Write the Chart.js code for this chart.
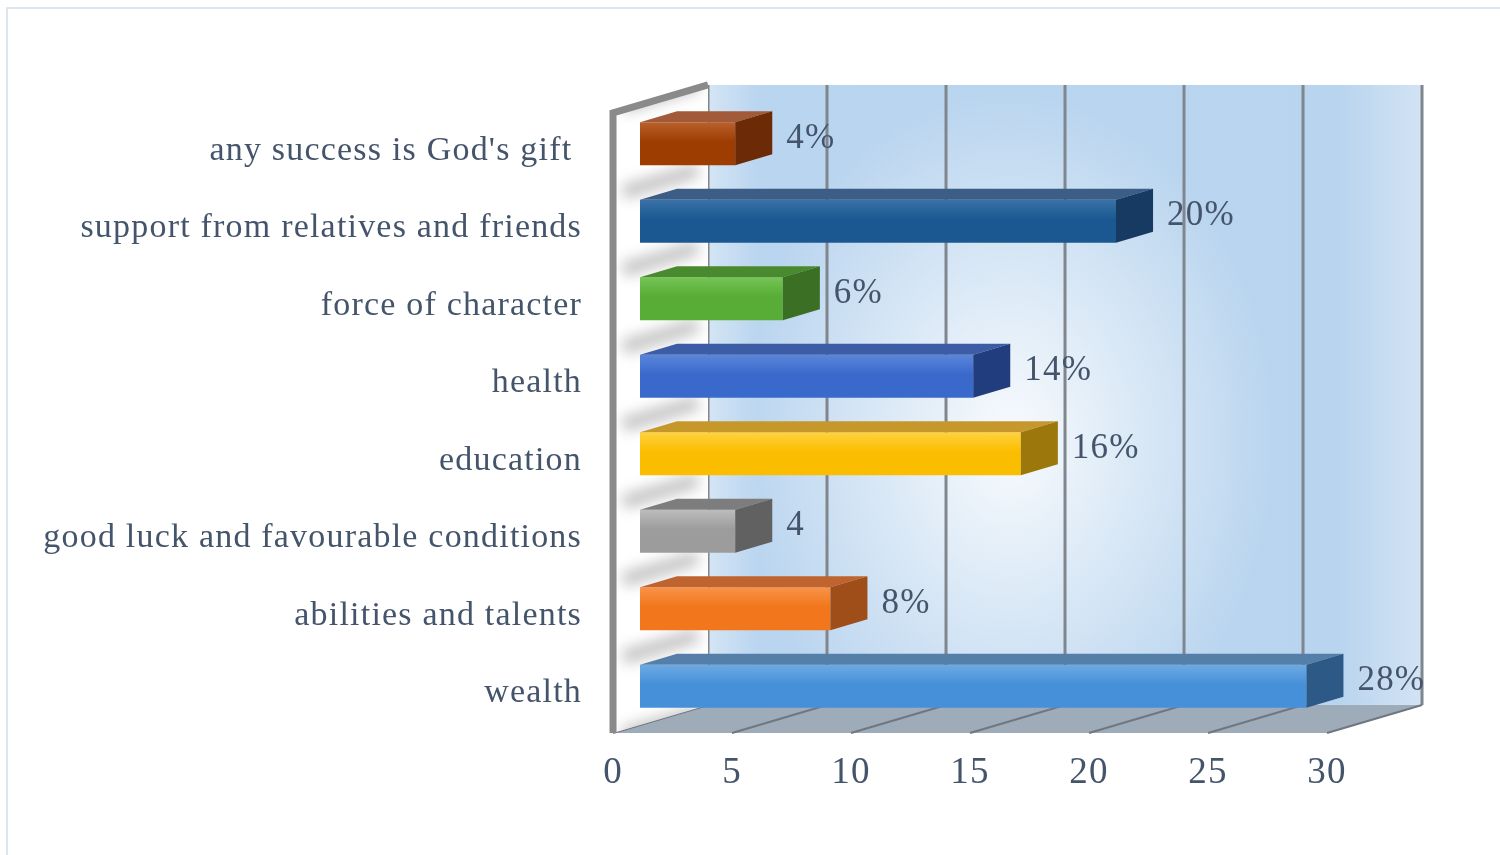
<!DOCTYPE html>
<html>
<head>
<meta charset="utf-8">
<title>Factors of success</title>
<script src="https://cdn.jsdelivr.net/npm/chart.js@4.4.1/dist/chart.umd.min.js"></script>
<style>
    html, body { margin: 0; padding: 0; background: #fff; }
    #wrap { position: relative; width: 1500px; height: 855px; overflow: hidden; }
    #frame { position: absolute; left: 6px; top: 7px; right: -10px; bottom: -10px;
             border-top: 2px solid #dfe5ef; border-left: 2px solid #dfe5ef; }
    canvas { position: absolute; left: 0; top: 0; }
</style>
</head>
<body>
<div id="wrap">
    <div id="frame"></div>
    <canvas id="success-chart" width="1500" height="855"></canvas>
</div>
<script>
(function() {
    'use strict';

    // Data
    var categories = [
        "any success is God's gift ",
        'support from relatives and friends',
        'force of character',
        'health',
        'education',
        'good luck and favourable conditions',
        'abilities and talents',
        'wealth'
    ];
    var values = [4, 20, 6, 14, 16, 4, 8, 28];
    var valueLabels = ['4%', '20%', '6%', '14%', '16%', '4', '8%', '28%'];
    var xTicks = [0, 5, 10, 15, 20, 25, 30];

    // Bar colours: front face (light / dark), top face, side face
    var barStyles = [
        { light: '#b9602c', dark: '#9e3d02', top: '#a25a38', side: '#6c2a06' },
        { light: '#3a72a8', dark: '#1b5891', top: '#3b5d86', side: '#173a62' },
        { light: '#76c456', dark: '#57ad35', top: '#4a8a2f', side: '#3a6f24' },
        { light: '#5a86da', dark: '#3a69cc', top: '#3c5ca6', side: '#223d7e' },
        { light: '#ffd23e', dark: '#fbbd00', top: '#c6982c', side: '#9c770c' },
        { light: '#bdbdbd', dark: '#9c9c9c', top: '#7d7d7d', side: '#616161' },
        { light: '#f8934a', dark: '#f2761c', top: '#bf632f', side: '#9f4d19' },
        { light: '#6eaae4', dark: '#4690d9', top: '#557fa9', side: '#2d5986' }
    ];

    var textColor = '#44546a';
    var fontFamily = '"Liberation Serif", "Times New Roman", serif';

    // 3D geometry: full depth vector and where the bars sit inside it
    var DEPTH = { x: 95, y: -28 };
    var BAR_FRONT = 0.284;
    var BAR_BACK = 0.674;
    var BAR_PCT = 0.555;

    function off(frac) {
        return { x: (frac - BAR_FRONT) * DEPTH.x, y: (frac - BAR_FRONT) * DEPTH.y };
    }

    function poly(ctx, pts) {
        ctx.beginPath();
        ctx.moveTo(pts[0][0], pts[0][1]);
        for (var i = 1; i < pts.length; i++) {
            ctx.lineTo(pts[i][0], pts[i][1]);
        }
        ctx.closePath();
    }

    var depthPlugin = {
        id: 'depth3d',
        beforeDraw: function(chart) {
            chart.ctx.letterSpacing = '1.2px';
        },
        beforeDatasetsDraw: function(chart) {
            var ctx = chart.ctx;
            var area = chart.chartArea;
            var xs = chart.scales.x;
            var front = off(0), back = off(1);
            var x0 = xs.getPixelForValue(xs.min);
            var x1 = xs.getPixelForValue(xs.max);
            var bl = x0 + back.x, br = x1 + back.x;
            var bt = area.top + back.y, bb = area.bottom + back.y;
            var fl = x0 + front.x, fr = x1 + front.x;
            var ft = area.top + front.y, fb = area.bottom + front.y;
            var slope = DEPTH.y / DEPTH.x;

            ctx.save();

            // Back wall
            var g = ctx.createLinearGradient(bl, 0, br, 0);
            g.addColorStop(0, '#d4e5f5');
            g.addColorStop(0.07, '#bad5ef');
            g.addColorStop(0.88, '#b8d4ee');
            g.addColorStop(1, '#d2e3f4');
            ctx.fillStyle = g;
            ctx.fillRect(bl, bt, br - bl, bb - bt);

            ctx.save();
            ctx.beginPath();
            ctx.rect(bl, bt, br - bl, bb - bt);
            ctx.clip();
            ctx.translate(1010, 440);
            ctx.scale(1, 1.3);
            var rg = ctx.createRadialGradient(0, 0, 0, 0, 0, 270);
            rg.addColorStop(0, 'rgba(255,255,255,0.9)');
            rg.addColorStop(0.5, 'rgba(255,255,255,0.45)');
            rg.addColorStop(1, 'rgba(255,255,255,0)');
            ctx.fillStyle = rg;
            ctx.fillRect(-400, -400, 800, 800);
            ctx.restore();

            // Back wall grid lines
            ctx.strokeStyle = '#80868e';
            ctx.lineWidth = 3;
            xs.ticks.forEach(function(t) {
                var x = xs.getPixelForValue(t.value) + back.x;
                ctx.beginPath();
                ctx.moveTo(x, bt);
                ctx.lineTo(x, bb);
                ctx.stroke();
            });

            // Floor
            poly(ctx, [[fl, fb], [fr, fb], [br, bb], [bl, bb]]);
            ctx.fillStyle = '#9eabb9';
            ctx.fill();
            ctx.strokeStyle = '#6f7781';
            ctx.lineWidth = 2;
            xs.ticks.forEach(function(t) {
                var x = xs.getPixelForValue(t.value);
                ctx.beginPath();
                ctx.moveTo(x + front.x, fb);
                ctx.lineTo(x + back.x, bb);
                ctx.stroke();
            });

            // Left wall with soft bar shadows
            poly(ctx, [[fl, ft], [bl, bt], [bl, bb], [fl, fb]]);
            ctx.fillStyle = '#ffffff';
            ctx.fill();

            ctx.save();
            poly(ctx, [[fl, ft], [bl, bt], [bl, bb], [fl, fb]]);
            ctx.clip();
            ctx.filter = 'blur(7px)';
            ctx.strokeStyle = 'rgba(120,120,120,0.45)';
            ctx.lineWidth = 14;
            var meta = chart.getDatasetMeta(0);
            var edges = [area.top - 4];
            meta.data.forEach(function(bar) {
                edges.push(bar.y + bar.height / 2 + 22);
            });
            edges.forEach(function(y) {
                ctx.beginPath();
                ctx.moveTo(fl + 10, y + (front.x + 10) * slope);
                ctx.lineTo(bl - 10, y + (back.x - 10) * slope);
                ctx.stroke();
            });
            ctx.restore();

            ctx.strokeStyle = '#8a8a8a';
            ctx.lineWidth = 7;
            ctx.lineJoin = 'miter';
            ctx.beginPath();
            ctx.moveTo(fl, fb);
            ctx.lineTo(fl, ft);
            ctx.lineTo(bl, bt);
            ctx.stroke();

            ctx.restore();
        },
        afterDatasetsDraw: function(chart) {
            var ctx = chart.ctx;
            var d = off(BAR_BACK);
            var meta = chart.getDatasetMeta(0);

            ctx.save();
            meta.data.forEach(function(bar, i) {
                var p = bar.getProps(['x', 'y', 'base', 'height'], true);
                var top = p.y - p.height / 2;
                var bot = p.y + p.height / 2;
                var st = barStyles[i];

                poly(ctx, [[p.base, top], [p.x, top], [p.x + d.x, top + d.y], [p.base + d.x, top + d.y]]);
                ctx.fillStyle = st.top;
                ctx.fill();

                poly(ctx, [[p.x, top], [p.x + d.x, top + d.y], [p.x + d.x, bot + d.y], [p.x, bot]]);
                ctx.fillStyle = st.side;
                ctx.fill();

                ctx.fillStyle = textColor;
                ctx.font = '35px ' + fontFamily;
                ctx.textAlign = 'left';
                ctx.textBaseline = 'middle';
                ctx.fillText(valueLabels[i], p.x + d.x + 14, p.y - 5);
            });
            ctx.restore();
        }
    };

    function frontColor(c) {
        var st = barStyles[c.dataIndex] || barStyles[0];
        if (c.type !== 'data') {
            return st.dark;
        }
        var chart = c.chart;
        var ys = chart.scales.y;
        var yc = ys ? ys.getPixelForValue(c.dataIndex) : NaN;
        if (!isFinite(yc)) {
            return st.dark;
        }
        var half = ys.height / categories.length * BAR_PCT / 2;
        var g = chart.ctx.createLinearGradient(0, yc - half, 0, yc + half);
        g.addColorStop(0, st.light);
        g.addColorStop(0.45, st.dark);
        g.addColorStop(1, st.dark);
        return g;
    }

    var ctx = document.getElementById('success-chart').getContext('2d');

    new Chart(ctx, {
        type: 'bar',
        data: {
            labels: categories,
            datasets: [{
                data: values,
                backgroundColor: frontColor,
                borderWidth: 0,
                barPercentage: BAR_PCT,
                categoryPercentage: 1
            }]
        },
        options: {
            indexAxis: 'y',
            responsive: false,
            animation: false,
            devicePixelRatio: 1,
            layout: {
                padding: { left: 0, right: 146, top: 105, bottom: 0 }
            },
            plugins: {
                legend: { display: false },
                tooltip: { enabled: false }
            },
            scales: {
                x: {
                    min: 0,
                    max: 30,
                    afterBuildTicks: function(scale) {
                        scale.ticks = xTicks.map(function(v) { return { value: v }; });
                    },
                    afterFit: function(scale) {
                        scale.height = 130;
                    },
                    grid: { display: false },
                    border: { display: false },
                    ticks: {
                        color: textColor,
                        padding: 18,
                        labelOffset: Math.round(-BAR_FRONT * DEPTH.x),
                        font: { family: fontFamily, size: 37 }
                    }
                },
                y: {
                    afterFit: function(scale) {
                        scale.width = 640;
                    },
                    grid: { display: false, drawTicks: false },
                    border: { display: false },
                    ticks: {
                        color: textColor,
                        padding: 58,
                        labelOffset: 7,
                        font: { family: fontFamily, size: 34 }
                    }
                }
            }
        },
        plugins: [depthPlugin]
    });

})();
</script>
</body>
</html>
